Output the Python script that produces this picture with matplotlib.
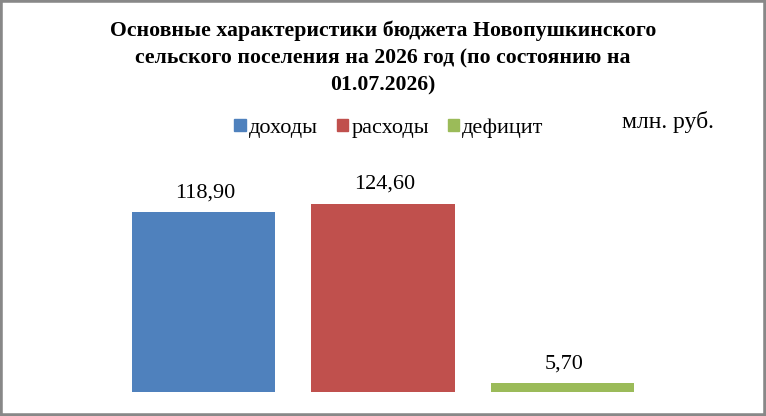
import matplotlib
matplotlib.use("Agg")
import matplotlib.pyplot as plt
from matplotlib.patches import Rectangle

plt.rcParams["font.family"] = ["Liberation Serif", "DejaVu Serif"]

# данные
categories = ["доходы", "расходы", "дефицит"]
values = [118.90, 124.60, 5.70]
value_labels = ["118,90", "124,60", "5,70"]
colors = ["#4f81bd", "#c0504d", "#9bbb59"]

title = ("Основные характеристики бюджета Новопушкинского\n"
         "сельского поселения на 2026 год (по состоянию на\n"
         "01.07.2026)")

W, H = 766, 416
fig = plt.figure(figsize=(W / 100, H / 100), dpi=100)

# axes: bars at x=0,1,2, baseline at y=392px
ax = fig.add_axes([95.8 / W, (H - 392) / H, 574.4 / W, 242 / H])
ax.set_xlim(-0.6, 2.6)
ax.set_ylim(0, 160)
ax.axis("off")

x = list(range(len(values)))
ax.bar(x, values, width=0.8, color=colors)

for xi, v, lab in zip(x, values, value_labels):
    ax.annotate(lab, (xi, v), xytext=(1, 10.5), textcoords="offset points",
                ha="center", va="baseline", fontsize=16)

fig.text(383 / W, 1 - 58 / H, title, ha="center", va="center", fontsize=15.7,
         fontweight="bold", linespacing=1.48, multialignment="center")

handles = [Rectangle((0, 0), 1, 1, color=c) for c in colors]
fig.legend(handles, categories, loc="center", bbox_to_anchor=(389 / W, 1 - 128 / H),
           ncol=3, frameon=False, fontsize=16, handlelength=0.5, handleheight=0.5,
           handletextpad=0.15, columnspacing=0.85, borderpad=0)

fig.text(622 / W, 1 - 122 / H, "млн. руб.", ha="left", va="center", fontsize=17)

# рамка вокруг диаграммы
fig.patches.append(Rectangle((0, 0), 1, 1, transform=fig.transFigure, fill=False,
                             edgecolor="#888888", linewidth=4))

fig.savefig("out.png", dpi=100)
